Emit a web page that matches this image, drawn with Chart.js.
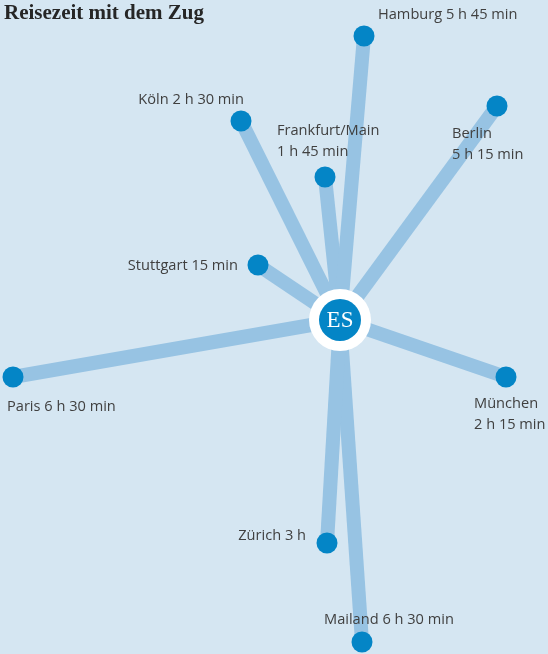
<!DOCTYPE html>
<html>
<head>
<meta charset="utf-8">
<script src="https://cdn.jsdelivr.net/npm/chart.js@4"></script>
<style>
  html, body { margin: 0; padding: 0; background: #d5e6f2; }
  #wrap { width: 548px; height: 654px; position: relative; }
</style>
</head>
<body>
<div id="wrap"><canvas id="zugChart"></canvas></div>
<script>
// Daten: Städte, Reisezeit und Lage relativ zu ES (Mittelpunkt = 0/0)
const cities = ['Hamburg', 'Köln', 'Frankfurt/Main', 'Berlin', 'Stuttgart', 'Paris', 'München', 'Zürich', 'Mailand'];
const times = ['5 h 45 min', '2 h 30 min', '1 h 45 min', '5 h 15 min', '15 min', '6 h 30 min', '2 h 15 min', '3 h', '6 h 30 min'];
const posX = [24, -99, -15, 157, -82, -327, 166, -13, 22];
const posY = [284, 199, 143, 214, 55, -57, -57, -223, -322];
const hub = 'ES';

// Beschriftung: Versatz in Pixel, Ausrichtung, zweizeilig ja/nein
const labelPlace = [
    { dx: 14, dy: -21, align: 'left', wrap: false },
    { dx: 3, dy: -21, align: 'right', wrap: false },
    { dx: -48, dy: -46, align: 'left', wrap: true },
    { dx: -45, dy: 28, align: 'left', wrap: true },
    { dx: -20, dy: 1, align: 'right', wrap: false },
    { dx: -6, dy: 30, align: 'left', wrap: false },
    { dx: -32, dy: 27, align: 'left', wrap: true },
    { dx: -21, dy: -7, align: 'right', wrap: false },
    { dx: -38, dy: -22, align: 'left', wrap: false }
];

const lineColor = '#97c3e3';
const dotColor = '#0485c6';

const datasets = [];
// Verbindungslinien vom Mittelpunkt zu jeder Stadt
cities.forEach((c, i) => {
    datasets.push({
        type: 'line',
        data: [{ x: 0, y: 0 }, { x: posX[i], y: posY[i] }],
        borderColor: lineColor,
        borderWidth: 14,
        pointRadius: 0,
        order: 10,
        clip: false
    });
});
// Stadtpunkte
datasets.push({
    type: 'scatter',
    data: cities.map((c, i) => ({ x: posX[i], y: posY[i] })),
    backgroundColor: dotColor,
    borderWidth: 0,
    pointRadius: 10.5,
    order: 5,
    clip: false
});
// Mittelpunkt ES: weißer Ring + blauer Kreis
datasets.push({
    type: 'scatter',
    data: [{ x: 0, y: 0 }],
    backgroundColor: '#ffffff',
    borderWidth: 0,
    pointRadius: 31,
    order: 3,
    clip: false
});
datasets.push({
    type: 'scatter',
    data: [{ x: 0, y: 0 }],
    backgroundColor: dotColor,
    borderWidth: 0,
    pointRadius: 21,
    order: 1,
    clip: false
});

const labelPlugin = {
    id: 'labels',
    afterDatasetsDraw(chart) {
        const ctx = chart.ctx;
        const xs = chart.scales.x, ys = chart.scales.y;
        ctx.save();
        ctx.font = '14.6px "Open Sans", "DejaVu Sans", sans-serif';
        ctx.fillStyle = '#404040';
        ctx.textBaseline = 'middle';
        cities.forEach((c, i) => {
            const p = labelPlace[i];
            const px = xs.getPixelForValue(posX[i]) + p.dx;
            const py = ys.getPixelForValue(posY[i]) + p.dy;
            ctx.textAlign = p.align;
            if (p.wrap) {
                ctx.fillText(c, px, py);
                ctx.fillText(times[i], px, py + 21);
            } else {
                ctx.fillText(c + ' ' + times[i], px, py);
            }
        });
        // ES im Mittelpunkt
        ctx.fillStyle = '#ffffff';
        ctx.textAlign = 'center';
        ctx.font = '23px "Liberation Serif", serif';
        ctx.fillText(hub, xs.getPixelForValue(0), ys.getPixelForValue(0) + 1);
        // Titel
        ctx.fillStyle = '#262626';
        ctx.textAlign = 'left';
        ctx.font = 'bold 21px "Liberation Serif", serif';
        ctx.fillText('Reisezeit mit dem Zug', 4, 14);
        ctx.restore();
    }
};

new Chart(document.getElementById('zugChart'), {
    data: { datasets: datasets },
    options: {
        responsive: true,
        maintainAspectRatio: false,
        animation: false,
        layout: { padding: 0, autoPadding: false },
        scales: {
            x: { type: 'linear', min: -340, max: 208, display: false },
            y: { type: 'linear', min: -334, max: 320, display: false }
        },
        plugins: {
            legend: { display: false },
            tooltip: { enabled: false }
        }
    },
    plugins: [labelPlugin]
});
</script>
</body>
</html>
